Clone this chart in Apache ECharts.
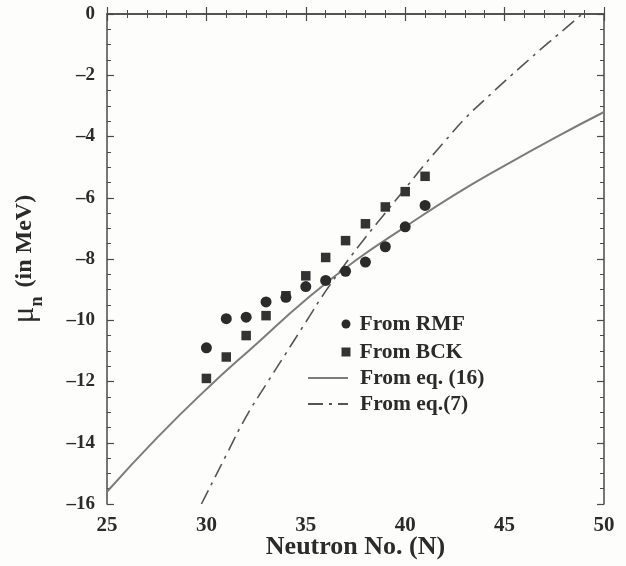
<!DOCTYPE html>
<html>
<head>
<meta charset="utf-8">
<script src="https://cdn.jsdelivr.net/npm/echarts@6/dist/echarts.min.js"></script>
<style>
  html, body { margin: 0; padding: 0; background: #fdfdfc; }
  #chart { width: 626px; height: 566px; }
</style>
</head>
<body>
<div id="chart"></div>
<script>
// Neutron chemical potential versus neutron number
const neutronN = [30, 31, 32, 33, 34, 35, 36, 37, 38, 39, 40, 41];
const rmfMu = [-10.9, -9.95, -9.9, -9.4, -9.25, -8.9, -8.7, -8.4, -8.1, -7.6, -6.95, -6.25];
const bckMu = [-11.9, -11.2, -10.5, -9.85, -9.2, -8.55, -7.95, -7.4, -6.85, -6.3, -5.8, -5.3];

// eq. (16) curve samples
const eq16N = [25, 27.5, 30, 32.5, 35, 37.5, 40, 42.5, 45, 47.5, 50];
const eq16Mu = [-15.6, -13.85, -12.25, -10.78, -9.33, -8.05, -6.95, -5.9, -4.95, -4.05, -3.2];

// eq. (7) curve samples
const eq7N = [29.75, 30, 31, 32, 33, 34, 35, 36, 37, 38, 39, 40, 41, 42, 43, 44, 45, 46, 47, 48, 48.9];
const eq7Mu = [-16, -15.68, -14.4, -13.15, -12.1, -11.08, -10.06, -9.05, -8.15, -7.3, -6.5, -5.7, -4.9, -4.15, -3.42, -2.8, -2.2, -1.62, -1.05, -0.5, 0];

const seriesNames = ['From RMF', 'From BCK', 'From eq. (16)', 'From eq.(7)'];

const pair = (xs, ys) => xs.map((x, i) => [x, ys[i]]);
const minus = v => String(v).replace('-', '\u2013');

const FONT = '"Liberation Serif", "Times New Roman", serif';
const INK = '#2b2b2b';
const AXIS = '#4a4a4a';

const tickStyle = {
  axisLine: { show: true, lineStyle: { color: AXIS, width: 1.5 } },
  axisTick: { show: true, inside: true, length: 7, lineStyle: { color: AXIS, width: 1.2 } },
  minorTick: { show: true, length: 4, lineStyle: { color: AXIS, width: 1 } },
  splitLine: { show: false }
};

const legendText = { fontFamily: FONT, fontWeight: 'bold', fontSize: 21.5, color: INK };

const chart = echarts.init(document.getElementById('chart'), null, { renderer: 'canvas' });

chart.setOption({
  backgroundColor: '#fdfdfc',
  animation: false,
  grid: { left: 107, right: 22, top: 14, bottom: 62, containLabel: false, outerBoundsMode: 'none' },
  legend: [
    {
      data: [
        { name: seriesNames[0], icon: 'circle' },
        { name: seriesNames[1], icon: 'rect' }
      ],
      orient: 'vertical',
      left: 336.5, top: 308,
      itemWidth: 9, itemHeight: 9, itemGap: 6,
      textStyle: Object.assign({ padding: [0, 0, 0, 4] }, legendText)
    },
    {
      data: seriesNames.slice(2),
      orient: 'vertical',
      left: 302, top: 362,
      itemWidth: 40, itemHeight: 10, itemGap: 4,
      itemStyle: { opacity: 0 },
      textStyle: Object.assign({ padding: [0, 0, 0, 7] }, legendText)
    }
  ],
  xAxis: [
    {
      type: 'value', min: 25, max: 50, interval: 5,
      axisLine: tickStyle.axisLine, axisTick: tickStyle.axisTick, splitLine: tickStyle.splitLine,
      minorTick: Object.assign({}, tickStyle.minorTick, { splitNumber: 5 }),
      axisLabel: { margin: 11, fontFamily: FONT, fontWeight: 'bold', fontSize: 21, color: INK },
      name: 'Neutron No. (N)', nameLocation: 'middle', nameGap: 30, nameMoveOverlap: false,
      nameTextStyle: { fontFamily: FONT, fontWeight: 'bold', fontSize: 26, color: INK }
    },
    {
      type: 'value', min: 25, max: 50, interval: 5, position: 'top',
      axisLine: tickStyle.axisLine, axisTick: tickStyle.axisTick, splitLine: tickStyle.splitLine,
      minorTick: Object.assign({}, tickStyle.minorTick, { splitNumber: 5 }),
      axisLabel: { show: false }
    }
  ],
  yAxis: [
    {
      type: 'value', min: -16, max: 0, interval: 2,
      axisLine: tickStyle.axisLine, axisTick: tickStyle.axisTick, splitLine: tickStyle.splitLine,
      minorTick: Object.assign({}, tickStyle.minorTick, { splitNumber: 4 }),
      axisLabel: { margin: 12, formatter: minus, fontFamily: FONT, fontWeight: 'bold', fontSize: 19, color: INK },
      name: '{mu|\u03bc}{sub|n}{gap| }{t|(in MeV)}',
      nameLocation: 'middle', nameRotate: 90, nameGap: 60, nameMoveOverlap: false,
      nameTextStyle: {
        rich: {
          mu: { fontFamily: FONT, fontSize: 31, color: INK, lineHeight: 44, verticalAlign: 'middle' },
          sub: { fontFamily: FONT, fontWeight: 'bold', fontSize: 18, color: INK, lineHeight: 44, verticalAlign: 'bottom', padding: [0, 0, 1, 0] },
          gap: { fontSize: 20, width: 9, lineHeight: 44 },
          t: { fontFamily: FONT, fontWeight: 'bold', fontSize: 24, color: INK, lineHeight: 44, verticalAlign: 'middle' }
        }
      }
    },
    {
      type: 'value', min: -16, max: 0, interval: 2, position: 'right',
      axisLine: tickStyle.axisLine, axisTick: tickStyle.axisTick, splitLine: tickStyle.splitLine,
      minorTick: Object.assign({}, tickStyle.minorTick, { splitNumber: 4 }),
      axisLabel: { show: false }
    }
  ],
  series: [
    {
      name: seriesNames[0], type: 'scatter', symbol: 'circle', symbolSize: 11,
      itemStyle: { color: INK, opacity: 1 },
      data: pair(neutronN, rmfMu), z: 4
    },
    {
      name: seriesNames[1], type: 'scatter', symbol: 'rect', symbolSize: 9.5,
      itemStyle: { color: '#333333', opacity: 1 },
      data: pair(neutronN, bckMu), z: 3
    },
    {
      name: seriesNames[2], type: 'line', smooth: true, showSymbol: false, symbol: 'none',
      lineStyle: { color: '#7c7c7c', width: 2 },
      itemStyle: { color: '#7c7c7c' },
      data: pair(eq16N, eq16Mu), z: 2
    },
    {
      name: seriesNames[3], type: 'line', smooth: true, showSymbol: false, symbol: 'none',
      lineStyle: { color: '#555555', width: 1.6, type: [15, 6, 3, 6] },
      itemStyle: { color: '#555555' },
      data: pair(eq7N, eq7Mu), z: 2
    }
  ]
});
</script>
</body>
</html>
